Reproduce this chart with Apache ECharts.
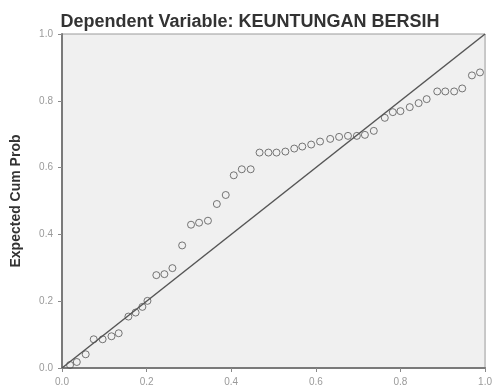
<!DOCTYPE html>
<html>
<head>
<meta charset="utf-8">
<script src="https://cdn.jsdelivr.net/npm/echarts@6/dist/echarts.min.js"></script>
<style>
  html, body { margin: 0; padding: 0; background: #ffffff; }
  #chart { width: 495px; height: 387px; }
</style>
</head>
<body>
<div id="chart"></div>
<script>
// Normal P-P plot of regression standardized residuals
const chartTitle = 'Dependent Variable: KEUNTUNGAN BERSIH';
const yAxisName = 'Expected Cum Prob';
const tickValues = [0, 0.2, 0.4, 0.6, 0.8, 1.0];

// Observed cumulative probability (x)
const observedCumProb = [
  0.019, 0.035, 0.056, 0.075, 0.096, 0.117, 0.134, 0.157, 0.174, 0.190,
  0.202, 0.223, 0.242, 0.261, 0.284, 0.305, 0.324, 0.345, 0.366, 0.387,
  0.406, 0.425, 0.446, 0.467, 0.488, 0.507, 0.528, 0.549, 0.568, 0.589,
  0.610, 0.634, 0.655, 0.676, 0.697, 0.716, 0.737, 0.763, 0.782, 0.800,
  0.822, 0.843, 0.862, 0.887, 0.906, 0.927, 0.946, 0.969, 0.988
];
// Expected cumulative probability (y)
const expectedCumProb = [
  0.009, 0.018, 0.041, 0.086, 0.086, 0.095, 0.104, 0.154, 0.166, 0.183,
  0.201, 0.278, 0.281, 0.299, 0.367, 0.429, 0.435, 0.441, 0.491, 0.518,
  0.577, 0.595, 0.595, 0.645, 0.645, 0.645, 0.648, 0.657, 0.663, 0.669,
  0.678, 0.686, 0.692, 0.695, 0.695, 0.698, 0.710, 0.749, 0.766, 0.769,
  0.781, 0.793, 0.805, 0.828, 0.828, 0.828, 0.837, 0.876, 0.885
];
// Reference diagonal
const diagonal = [[0, 0], [1, 1]];

const points = observedCumProb.map((x, i) => [x, expectedCumProb[i]]);

const tickLabel = v => v.toFixed(1);
const font = 'Liberation Sans, Arial, sans-serif';

const chart = echarts.init(document.getElementById('chart'), null, { renderer: 'canvas' });
chart.setOption({
  animation: false,
  backgroundColor: '#ffffff',
  title: {
    text: chartTitle,
    left: 245,
    textAlign: 'center',
    top: 8,
    textStyle: {
      fontFamily: font,
      fontSize: 18,
      fontWeight: 'bold',
      color: '#333333'
    }
  },
  grid: {
    left: 62, right: 7, top: 34, bottom: 15,
    show: true,
    backgroundColor: '#f0f0f0',
    borderColor: '#9a9a9a',
    borderWidth: 1
  },
  xAxis: {
    type: 'value',
    min: 0, max: 1, interval: 0.2,
    axisLine: { show: true, onZero: false, lineStyle: { color: '#7a7a7a', width: 2 } },
    axisTick: { show: true, length: 4, lineStyle: { color: '#8a8a8a' } },
    axisLabel: {
      color: '#9a9a9a', fontSize: 10, margin: 9,
      fontFamily: font,
      formatter: tickLabel,
      showMinLabel: true, showMaxLabel: true
    },
    splitLine: { show: false }
  },
  yAxis: {
    type: 'value',
    min: 0, max: 1, interval: 0.2,
    name: yAxisName,
    nameLocation: 'middle',
    nameGap: 39,
    nameRotate: 90,
    nameTextStyle: {
      fontFamily: font,
      fontSize: 14,
      fontWeight: 'bold',
      color: '#333333'
    },
    axisLine: { show: true, onZero: false, lineStyle: { color: '#7a7a7a', width: 2 } },
    axisTick: { show: true, length: 4, lineStyle: { color: '#8a8a8a' } },
    axisLabel: {
      color: '#9a9a9a', fontSize: 10, margin: 9,
      fontFamily: font,
      formatter: tickLabel,
      showMinLabel: true, showMaxLabel: true
    },
    splitLine: { show: false }
  },
  series: [
    {
      type: 'line',
      data: diagonal,
      symbol: 'none',
      silent: true,
      lineStyle: { color: '#555555', width: 1.5 },
      z: 2
    },
    {
      type: 'scatter',
      data: points,
      symbol: 'circle',
      symbolSize: 7,
      itemStyle: { color: 'rgba(0,0,0,0)', borderColor: '#555555', borderWidth: 1 },
      z: 3
    }
  ]
});
</script>
</body>
</html>
